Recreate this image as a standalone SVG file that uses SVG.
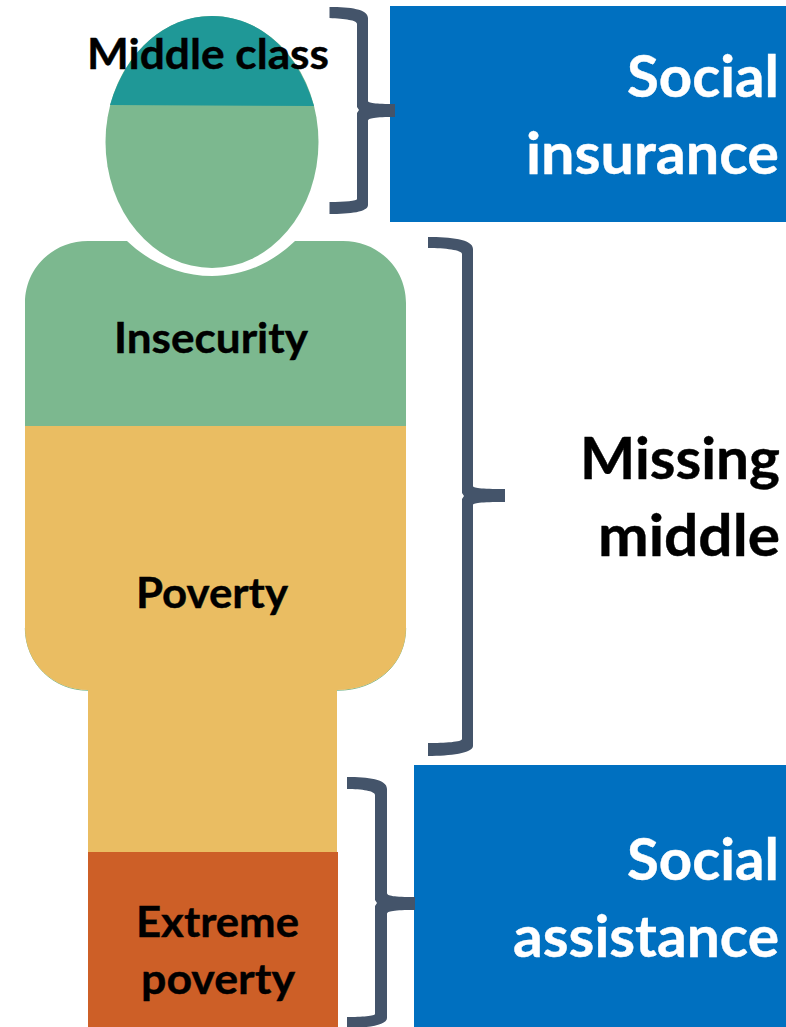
<svg xmlns="http://www.w3.org/2000/svg" width="786" height="1027" viewBox="0 0 786 1027">
<defs><style>
text{font-family:Lato,"Liberation Sans",sans-serif;font-weight:700;fill:#000;stroke:#000;stroke-width:.4}
.s{fill:#fff;stroke:#fff;font-size:58px}
.m{font-size:58px}
.l{font-size:42px}
.b{fill:#44546a}
</style></defs>
<rect width="786" height="1027" fill="#fff"/>
<g id="figure">
<path d="M88 241H127C150 263 180 276 212 276C244 276 272 263 295 241H343C378 241 406 268 406 303V426H25V303C25 268 53 241 88 241Z" fill="#7cb88f"/>
<path d="M25.300 628C25.300 663 53 690.300 88 690.300M405.700 628C405.700 663 378 690.300 337 690.300" fill="none" stroke="#7cb88f" stroke-width="1"/>
<path d="M25 426H406V628C406 663 378 690 337 690V852H88V690C53 690 25 663 25 628Z" fill="#eabd62"/>
<rect x="88" y="852" width="250" height="175" fill="#cd5f27"/>
<ellipse cx="212" cy="142" rx="106.500" ry="126" fill="#7cb88f"/>
<path d="M110 105C126 51 165 16 212 16C259 16 298 51 314 106Z" fill="#1f9897"/>
</g>
<g id="node-social-insurance"><rect x="390" y="6" width="396" height="216" fill="#0070c0"/>
<text class="s" x="627" y="97" textLength="152" lengthAdjust="spacingAndGlyphs">Social</text><text class="s" x="526" y="174" textLength="253" lengthAdjust="spacingAndGlyphs">insurance</text></g>
<g id="node-social-assistance"><rect x="414" y="765" width="372" height="262" fill="#0070c0"/>
<text class="s" x="627" y="880" textLength="152" lengthAdjust="spacingAndGlyphs">Social</text><text class="s" x="513" y="957" textLength="266" lengthAdjust="spacingAndGlyphs">assistance</text></g>
<g id="node-missing-middle"><text class="m" x="580" y="479" textLength="200" lengthAdjust="spacingAndGlyphs">Missing</text><text class="m" x="598" y="556" textLength="182" lengthAdjust="spacingAndGlyphs">middle</text></g>
<g id="node-middle-class"><text class="l" x="87" y="68.500" textLength="242" lengthAdjust="spacingAndGlyphs">Middle class</text></g>
<g id="node-insecurity"><text class="l" x="114" y="353" textLength="194" lengthAdjust="spacingAndGlyphs">Insecurity</text></g>
<g id="node-poverty"><text class="l" x="136" y="608" textLength="152" lengthAdjust="spacingAndGlyphs">Poverty</text></g>
<g id="node-extreme-poverty"><text class="l" x="136" y="937" textLength="163" lengthAdjust="spacingAndGlyphs">Extreme</text><text class="l" x="141" y="994" textLength="154" lengthAdjust="spacingAndGlyphs">poverty</text></g>
<g id="connectors">
<path class="b" d="M329.500 7C350 7 368 9 368 18V101C368 103 375 104 395 104V117C375 117 368 118 368 121V205C368 212 350 214 329.500 214V202C345 202 357 201 357 199V113L359 110L357 107V24C357 20 345 19 329.500 18Z"/>
<path class="b" d="M428 237C450 237 473 239 473 249V486C473 488 480 489 505 489V502C480 502 473 503 473 505V746C473 753 450 756 428 756V743C445 743 462 742 462 739V499L464 496L462 493V254C462 250 445 248 428 248Z"/>
<path class="b" d="M347 777C368 777 387 779 387 789V893C387 896 394 897 415 897V910C394 910 387 911 387 914V1018C387 1025 368 1028 347 1028V1017C362 1017 375 1016 375 1014V906L377 903L375 900V795C375 791 362 789 347 789Z"/>
</g>
</svg>
